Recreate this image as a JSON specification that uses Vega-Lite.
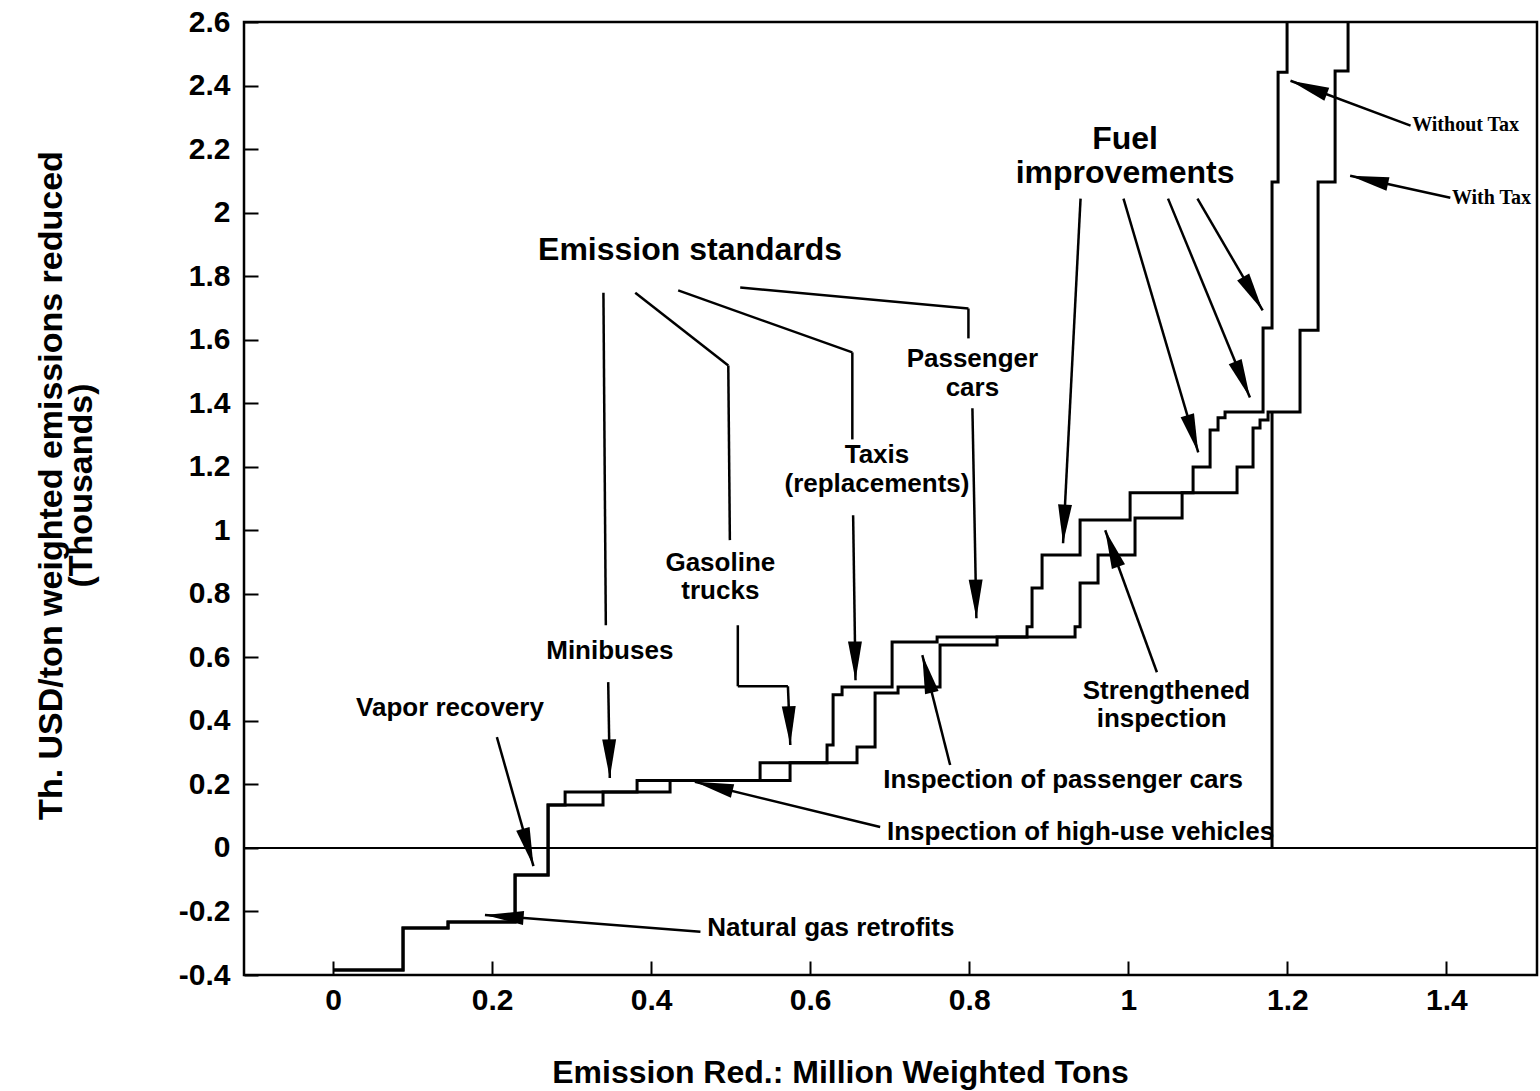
{
  "$schema": "https://vega.github.io/schema/vega-lite/v6.json",
  "width": 1293,
  "height": 953,
  "autosize": {"type": "none"},
  "padding": {"left": 244, "top": 22, "right": 3, "bottom": 116},
  "background": "white",
  "config": {
    "view": {"stroke": "black", "strokeWidth": 2.5},
    "font": "Liberation Sans",
    "axis": {
      "grid": false,
      "domain": false,
      "ticks": true,
      "tickColor": "black",
      "tickWidth": 2,
      "tickSize": 14,
      "offset": -14,
      "labelFont": "Liberation Sans",
      "labelFontWeight": "bold",
      "labelFontSize": 30,
      "labelColor": "black",
      "titleFont": "Liberation Sans",
      "titleFontWeight": "bold",
      "titleColor": "black"
    }
  },
  "datasets": {
    "curves": [
      {"series": "Without Tax", "x": 0, "y": -0.384},
      {"series": "Without Tax", "x": 0.088, "y": -0.252},
      {"series": "Without Tax", "x": 0.1446, "y": -0.233},
      {"series": "Without Tax", "x": 0.2289, "y": -0.085},
      {"series": "Without Tax", "x": 0.2704, "y": 0.135},
      {"series": "Without Tax", "x": 0.2918, "y": 0.176},
      {"series": "Without Tax", "x": 0.3823, "y": 0.212},
      {"series": "Without Tax", "x": 0.537, "y": 0.268},
      {"series": "Without Tax", "x": 0.6212, "y": 0.324},
      {"series": "Without Tax", "x": 0.6288, "y": 0.482},
      {"series": "Without Tax", "x": 0.6401, "y": 0.507},
      {"series": "Without Tax", "x": 0.703, "y": 0.648},
      {"series": "Without Tax", "x": 0.7596, "y": 0.664},
      {"series": "Without Tax", "x": 0.8727, "y": 0.696},
      {"series": "Without Tax", "x": 0.879, "y": 0.818},
      {"series": "Without Tax", "x": 0.8916, "y": 0.922},
      {"series": "Without Tax", "x": 0.9394, "y": 1.032},
      {"series": "Without Tax", "x": 1.0023, "y": 1.118},
      {"series": "Without Tax", "x": 1.0815, "y": 1.199},
      {"series": "Without Tax", "x": 1.1029, "y": 1.316},
      {"series": "Without Tax", "x": 1.1129, "y": 1.354},
      {"series": "Without Tax", "x": 1.1217, "y": 1.372},
      {"series": "Without Tax", "x": 1.1695, "y": 1.637},
      {"series": "Without Tax", "x": 1.1808, "y": 2.096},
      {"series": "Without Tax", "x": 1.1884, "y": 2.442},
      {"series": "Without Tax", "x": 1.1997, "y": 2.6},
      {"series": "With Tax", "x": 0, "y": -0.384},
      {"series": "With Tax", "x": 0.088, "y": -0.252},
      {"series": "With Tax", "x": 0.1446, "y": -0.233},
      {"series": "With Tax", "x": 0.2289, "y": -0.085},
      {"series": "With Tax", "x": 0.2704, "y": 0.135},
      {"series": "With Tax", "x": 0.3395, "y": 0.176},
      {"series": "With Tax", "x": 0.4238, "y": 0.212},
      {"series": "With Tax", "x": 0.5747, "y": 0.268},
      {"series": "With Tax", "x": 0.6589, "y": 0.318},
      {"series": "With Tax", "x": 0.6816, "y": 0.488},
      {"series": "With Tax", "x": 0.7105, "y": 0.507},
      {"series": "With Tax", "x": 0.7633, "y": 0.639},
      {"series": "With Tax", "x": 0.835, "y": 0.664},
      {"series": "With Tax", "x": 0.9331, "y": 0.696},
      {"series": "With Tax", "x": 0.9394, "y": 0.834},
      {"series": "With Tax", "x": 0.962, "y": 0.922},
      {"series": "With Tax", "x": 1.0085, "y": 1.039},
      {"series": "With Tax", "x": 1.0677, "y": 1.118},
      {"series": "With Tax", "x": 1.1368, "y": 1.199},
      {"series": "With Tax", "x": 1.1569, "y": 1.322},
      {"series": "With Tax", "x": 1.1657, "y": 1.347},
      {"series": "With Tax", "x": 1.1758, "y": 1.372},
      {"series": "With Tax", "x": 1.216, "y": 1.63},
      {"series": "With Tax", "x": 1.2387, "y": 2.096},
      {"series": "With Tax", "x": 1.2601, "y": 2.446},
      {"series": "With Tax", "x": 1.2764, "y": 2.6}
    ],
    "zero": [
      {"x": -0.112, "x2": 1.514, "y": 0}
    ],
    "drop": [
      {"x": 1.1808, "y": 0, "y2": 1.372}
    ],
    "segments": [
      {"x": 0.340, "y": 1.748, "x2": 0.343, "y2": 0.701, "head": 0},
      {"x": 0.346, "y": 0.522, "x2": 0.348, "y2": 0.220, "head": 1},
      {"x": 0.380, "y": 1.748, "x2": 0.497, "y2": 1.519, "head": 0},
      {"x": 0.497, "y": 1.519, "x2": 0.499, "y2": 0.969, "head": 0},
      {"x": 0.509, "y": 0.701, "x2": 0.509, "y2": 0.509, "head": 0},
      {"x": 0.509, "y": 0.509, "x2": 0.572, "y2": 0.509, "head": 0},
      {"x": 0.572, "y": 0.509, "x2": 0.575, "y2": 0.324, "head": 1},
      {"x": 0.434, "y": 1.755, "x2": 0.653, "y2": 1.560, "head": 0},
      {"x": 0.653, "y": 1.560, "x2": 0.653, "y2": 1.286, "head": 0},
      {"x": 0.654, "y": 1.047, "x2": 0.657, "y2": 0.528, "head": 1},
      {"x": 0.512, "y": 1.764, "x2": 0.799, "y2": 1.698, "head": 0},
      {"x": 0.799, "y": 1.698, "x2": 0.799, "y2": 1.604, "head": 0},
      {"x": 0.804, "y": 1.384, "x2": 0.809, "y2": 0.723, "head": 1},
      {"x": 0.940, "y": 2.044, "x2": 0.918, "y2": 0.959, "head": 1},
      {"x": 0.994, "y": 2.044, "x2": 1.088, "y2": 1.245, "head": 1},
      {"x": 1.050, "y": 2.044, "x2": 1.153, "y2": 1.418, "head": 1},
      {"x": 1.087, "y": 2.044, "x2": 1.169, "y2": 1.692, "head": 1},
      {"x": 0.206, "y": 0.349, "x2": 0.252, "y2": -0.057, "head": 1},
      {"x": 0.462, "y": -0.264, "x2": 0.191, "y2": -0.211, "head": 1},
      {"x": 0.688, "y": 0.066, "x2": 0.455, "y2": 0.208, "head": 1},
      {"x": 0.776, "y": 0.261, "x2": 0.741, "y2": 0.607, "head": 1},
      {"x": 1.036, "y": 0.553, "x2": 0.971, "y2": 1.0, "head": 1},
      {"x": 1.355, "y": 2.274, "x2": 1.204, "y2": 2.415, "head": 1},
      {"x": 1.405, "y": 2.047, "x2": 1.279, "y2": 2.116, "head": 1}
    ],
    "labels": [
      {"text": "Emission standards", "x": 0.449, "y": 1.882, "kind": "big"},
      {"text": "Fuel", "x": 0.996, "y": 2.232, "kind": "big"},
      {"text": "improvements", "x": 0.996, "y": 2.125, "kind": "big"},
      {"text": "Passenger", "x": 0.804, "y": 1.539, "kind": "mid"},
      {"text": "cars", "x": 0.804, "y": 1.448, "kind": "mid"},
      {"text": "Taxis", "x": 0.684, "y": 1.237, "kind": "mid"},
      {"text": "(replacements)", "x": 0.684, "y": 1.146, "kind": "mid"},
      {"text": "Gasoline", "x": 0.487, "y": 0.897, "kind": "mid"},
      {"text": "trucks", "x": 0.487, "y": 0.808, "kind": "mid"},
      {"text": "Minibuses", "x": 0.348, "y": 0.620, "kind": "mid"},
      {"text": "Vapor recovery", "x": 0.147, "y": 0.441, "kind": "mid"},
      {"text": "Strengthened", "x": 1.048, "y": 0.494, "kind": "mid"},
      {"text": "inspection", "x": 1.042, "y": 0.406, "kind": "mid"},
      {"text": "Inspection of passenger cars", "x": 0.918, "y": 0.214, "kind": "mid"},
      {"text": "Inspection of high-use vehicles", "x": 0.940, "y": 0.050, "kind": "mid"},
      {"text": "Natural gas retrofits", "x": 0.626, "y": -0.252, "kind": "mid"},
      {"text": "Without Tax", "x": 1.357, "y": 2.276, "kind": "tax"},
      {"text": "With Tax", "x": 1.407, "y": 2.046, "kind": "tax"}
    ]
  },
  "encoding": {
    "x": {
      "field": "x",
      "type": "quantitative",
      "scale": {"domain": [-0.112, 1.514], "nice": false, "zero": false},
      "axis": {
        "values": [0, 0.2, 0.4, 0.6, 0.8, 1, 1.2, 1.4],
        "format": "~g",
        "labelPadding": 10,
        "title": "Emission Red.: Million Weighted Tons",
        "titleFontSize": 32,
        "titleX": 596,
        "titleY": 121,
        "titleAlign": "center",
        "titleBaseline": "alphabetic"
      }
    },
    "y": {
      "field": "y",
      "type": "quantitative",
      "scale": {"domain": [-0.4, 2.6], "nice": false, "zero": false},
      "axis": {
        "values": [-0.4, -0.2, 0, 0.2, 0.4, 0.6, 0.8, 1, 1.2, 1.4, 1.6, 1.8, 2, 2.2, 2.4, 2.6],
        "labelExpr": "replace(format(datum.value, '~g'), '\u2212', '-')",
        "labelPadding": 14,
        "title": ["Th. USD/ton weighted emissions reduced", "(Thousands)"],
        "titleFontSize": 34,
        "titleLineHeight": 30,
        "titleAngle": 270,
        "titleX": -197,
        "titleY": 463,
        "titleAlign": "center",
        "titleBaseline": "alphabetic"
      }
    }
  },
  "layer": [
    {
      "data": {"name": "zero"},
      "mark": {"type": "rule", "color": "black", "strokeWidth": 2},
      "encoding": {"x2": {"field": "x2"}}
    },
    {
      "data": {"name": "drop"},
      "mark": {"type": "rule", "color": "black", "strokeWidth": 3},
      "encoding": {"y2": {"field": "y2"}}
    },
    {
      "data": {"name": "curves"},
      "mark": {"type": "line", "interpolate": "step-after", "color": "black", "strokeWidth": 3, "clip": true},
      "encoding": {"detail": {"field": "series"}}
    },
    {
      "data": {"name": "segments"},
      "mark": {"type": "rule", "color": "black", "strokeWidth": 2.5},
      "encoding": {"x2": {"field": "x2"}, "y2": {"field": "y2"}}
    },
    {
      "data": {"name": "segments"},
      "transform": [
        {"filter": "datum.head == 1"},
        {"calculate": "atan2(-(datum.x2 - datum.x) * 795.2, -(datum.y2 - datum.y) * 317.67) * 180 / PI", "as": "ang"}
      ],
      "mark": {"type": "point", "shape": "M0,0L-0.36,-2L0.36,-2Z", "filled": true, "color": "black", "opacity": 1, "size": 1500},
      "encoding": {
        "x": {"field": "x2", "type": "quantitative"},
        "y": {"field": "y2", "type": "quantitative"},
        "angle": {"field": "ang", "type": "quantitative", "scale": null}
      }
    },
    {
      "data": {"name": "labels"},
      "transform": [{"filter": "datum.kind == 'big'"}],
      "mark": {"type": "text", "font": "Liberation Sans", "fontWeight": "bold", "fontSize": 32, "align": "center", "baseline": "middle", "color": "black"},
      "encoding": {"text": {"field": "text"}}
    },
    {
      "data": {"name": "labels"},
      "transform": [{"filter": "datum.kind == 'mid'"}],
      "mark": {"type": "text", "font": "Liberation Sans", "fontWeight": "bold", "fontSize": 26, "align": "center", "baseline": "middle", "color": "black"},
      "encoding": {"text": {"field": "text"}}
    },
    {
      "data": {"name": "labels"},
      "transform": [{"filter": "datum.kind == 'tax'"}],
      "mark": {"type": "text", "font": "Liberation Serif", "fontWeight": "bold", "fontSize": 20, "align": "left", "baseline": "middle", "color": "black"},
      "encoding": {"text": {"field": "text"}}
    }
  ]
}
